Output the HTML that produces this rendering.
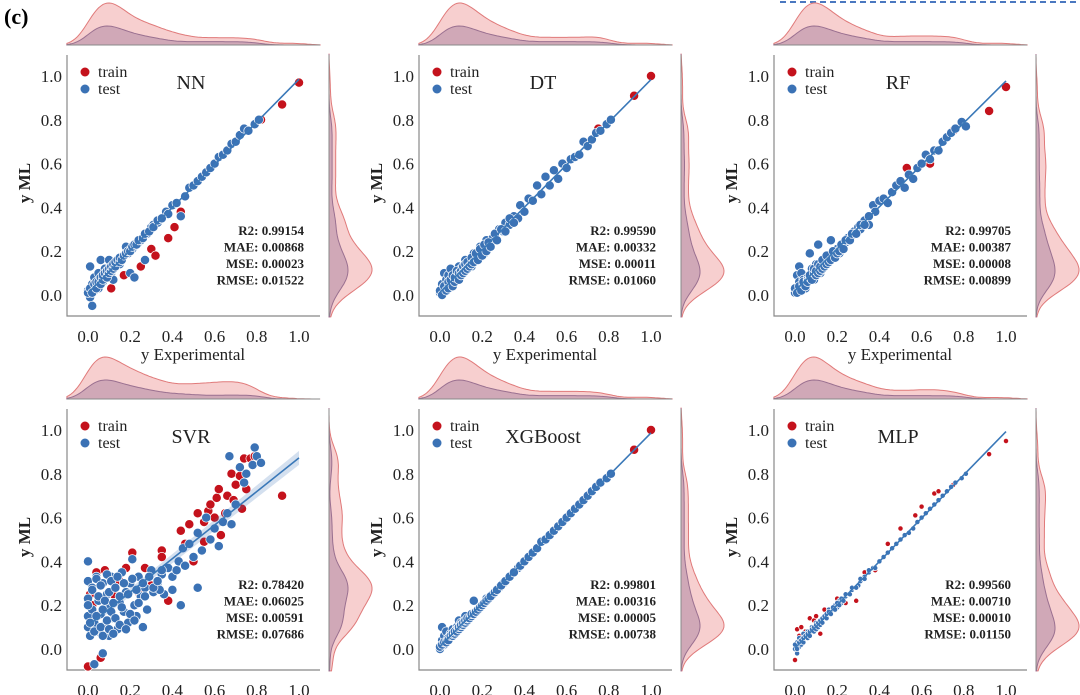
<!DOCTYPE html>
<html><head><meta charset="utf-8">
<style>
html,body{margin:0;padding:0;background:#fff;}
svg{display:block;font-family:"Liberation Serif",serif;}
</style></head>
<body>
<svg id="fig" width="1080" height="695" viewBox="0 0 1080 695" xmlns="http://www.w3.org/2000/svg">
<text x="4" y="24" font-size="22" font-weight="bold">(c)</text>
<line x1="780" y1="2" x2="1080" y2="2" stroke="#4a78c0" stroke-width="2" stroke-dasharray="6,4"/>
</svg>
<script>
// shared experimental values (test set)
const expX = [0.00,0.01,0.01,0.02,0.02,0.03,0.03,0.04,0.05,0.05,0.06,0.07,0.08,0.08,0.09,0.10,0.10,0.11,0.12,0.13,0.14,0.15,0.16,0.17,0.18,0.19,0.20,0.21,0.22,0.24,0.25,0.27,0.28,0.30,0.31,0.33,0.35,0.37,0.38,0.40,0.42,0.44,0.46,0.48,0.50,0.52,0.54,0.56,0.58,0.60,0.62,0.64,0.66,0.68,0.70,0.72,0.74,0.76,0.79,0.81];
const expX2 = [0.00,0.01,0.02,0.03,0.04,0.04,0.05,0.06,0.06,0.07,0.07,0.08,0.09,0.09,0.10,0.10,0.11,0.11,0.12,0.12,0.13,0.13,0.14,0.15,0.15,0.16,0.17,0.18,0.19,0.20,0.21,0.22,0.23,0.24,0.26,0.27,0.29,0.31,0.33,0.35];
const nnY = [0.02,0.13,-0.01,-0.05,0.05,0.02,0.08,0.06,0.03,0.10,0.16,0.06,0.09,0.12,0.08,0.16,0.11,0.10,0.07,0.13,0.15,0.14,0.17,0.18,0.22,0.19,0.10,0.21,0.08,0.24,0.25,0.16,0.28,0.31,0.32,0.33,0.35,0.38,0.37,0.41,0.42,0.36,0.45,0.49,0.50,0.52,0.54,0.56,0.58,0.60,0.63,0.64,0.66,0.69,0.70,0.73,0.76,0.75,0.78,0.80];
const nnY2 = [0.01,0.03,0.01,0.05,0.03,0.06,0.06,0.05,0.08,0.07,0.09,0.10,0.08,0.11,0.10,0.12,0.11,0.13,0.12,0.14,0.13,0.15,0.16,0.15,0.17,0.16,0.18,0.19,0.20,0.20,0.22,0.23,0.23,0.25,0.26,0.28,0.29,0.31,0.34,0.35];
const dtY = [0.01,0.05,0.02,0.10,0.03,0.07,0.04,0.09,0.05,0.12,0.06,0.08,0.10,0.07,0.13,0.09,0.12,0.11,0.16,0.12,0.15,0.13,0.19,0.17,0.16,0.22,0.20,0.19,0.25,0.23,0.26,0.25,0.30,0.29,0.33,0.32,0.36,0.35,0.41,0.38,0.44,0.43,0.50,0.46,0.54,0.50,0.57,0.53,0.60,0.58,0.62,0.63,0.64,0.70,0.68,0.71,0.74,0.75,0.78,0.80];
const dtY2 = [0.02,0.00,0.04,0.02,0.06,0.03,0.07,0.04,0.09,0.06,0.08,0.11,0.07,0.10,0.11,0.09,0.13,0.10,0.14,0.11,0.15,0.12,0.13,0.17,0.14,0.15,0.19,0.16,0.21,0.18,0.23,0.20,0.24,0.22,0.28,0.25,0.30,0.29,0.35,0.33];
const rfY = [0.01,0.09,0.02,0.06,0.13,0.04,0.10,0.07,0.03,0.05,0.08,0.19,0.09,0.12,0.07,0.14,0.11,0.23,0.10,0.13,0.16,0.15,0.17,0.25,0.18,0.20,0.21,0.19,0.22,0.24,0.26,0.27,0.29,0.31,0.30,0.34,0.32,0.41,0.38,0.43,0.44,0.42,0.47,0.50,0.52,0.49,0.55,0.53,0.58,0.60,0.64,0.62,0.66,0.66,0.70,0.72,0.74,0.76,0.79,0.77];
const rfY2 = [0.03,0.01,0.04,0.02,0.05,0.06,0.04,0.07,0.06,0.08,0.09,0.07,0.10,0.12,0.09,0.11,0.10,0.14,0.11,0.13,0.12,0.16,0.13,0.14,0.18,0.15,0.16,0.20,0.17,0.19,0.20,0.23,0.21,0.25,0.25,0.28,0.28,0.32,0.32,0.36];
const xgbY = [0.00,0.04,0.10,0.02,0.06,0.03,0.08,0.05,0.07,0.06,0.09,0.08,0.10,0.09,0.13,0.10,0.12,0.11,0.15,0.13,0.14,0.15,0.22,0.17,0.18,0.19,0.20,0.21,0.23,0.24,0.25,0.27,0.28,0.30,0.31,0.33,0.35,0.37,0.38,0.40,0.42,0.44,0.46,0.49,0.50,0.52,0.54,0.56,0.58,0.60,0.62,0.64,0.66,0.68,0.70,0.72,0.74,0.76,0.78,0.80];
const xgbY2 = [0.01,0.02,0.03,0.03,0.05,0.04,0.06,0.06,0.07,0.07,0.08,0.08,0.09,0.10,0.10,0.11,0.11,0.12,0.12,0.13,0.13,0.14,0.14,0.15,0.16,0.16,0.17,0.18,0.19,0.20,0.21,0.22,0.23,0.24,0.26,0.27,0.29,0.31,0.33,0.35];
const mlpY = [0.00,-0.02,0.03,0.01,0.05,0.02,0.04,0.07,0.05,0.06,0.08,0.07,0.09,0.10,0.08,0.12,0.10,0.11,0.13,0.12,0.14,0.15,0.18,0.17,0.18,0.20,0.19,0.22,0.21,0.24,0.25,0.27,0.28,0.29,0.31,0.33,0.35,0.37,0.37,0.40,0.42,0.44,0.46,0.48,0.50,0.52,0.53,0.55,0.58,0.60,0.62,0.64,0.66,0.68,0.70,0.72,0.74,0.76,0.78,0.80];
const mlpY2 = [0.02,0.00,0.03,0.04,0.03,0.05,0.06,0.05,0.07,0.08,0.06,0.09,0.08,0.10,0.11,0.09,0.12,0.10,0.13,0.11,0.14,0.12,0.15,0.14,0.16,0.17,0.16,0.19,0.18,0.21,0.20,0.23,0.22,0.25,0.25,0.28,0.28,0.32,0.32,0.36];
// train points (x, y) per model
const nnTrainX = [0.11,0.17,0.25,0.30,0.32,0.38,0.41,0.44,0.92,1.00,0.82];
const nnTrainY = [0.03,0.09,0.13,0.21,0.18,0.26,0.31,0.38,0.87,0.97,0.80];
const dtTrainX = [0.75,0.92,1.00];
const dtTrainY = [0.76,0.91,1.00];
const rfTrainX = [0.53,0.64,0.75,0.92,1.00];
const rfTrainY = [0.58,0.60,0.75,0.84,0.95];
const xgbTrainX = [0.92,1.00];
const xgbTrainY = [0.91,1.00];
const mlpTrainX = [0.00,0.01,0.02,0.03,0.05,0.07,0.09,0.10,0.12,0.14,0.20,0.24,0.29,0.33,0.38,0.44,0.50,0.57,0.60,0.66,0.68,0.75,0.92,1.00];
const mlpTrainY = [-0.05,0.09,0.06,0.10,0.08,0.14,0.13,0.15,0.07,0.18,0.23,0.21,0.22,0.35,0.36,0.48,0.55,0.61,0.65,0.71,0.72,0.75,0.89,0.95];
// SVR has its own scatter
const svrTestX = [0.00,0.00,0.00,0.00,0.00,0.01,0.02,0.02,0.03,0.03,0.04,0.05,0.05,0.06,0.07,0.07,0.08,0.09,0.10,0.10,0.11,0.12,0.13,0.14,0.15,0.16,0.17,0.18,0.19,0.20,0.21,0.22,0.23,0.24,0.25,0.27,0.28,0.30,0.31,0.33,0.35,0.36,0.38,0.40,0.42,0.43,0.44,0.45,0.46,0.48,0.50,0.52,0.52,0.54,0.56,0.58,0.60,0.62,0.64,0.66,0.68,0.70,0.72,0.74,0.75,0.78,0.79,0.80,0.82,0.67,0.40,0.34,0.26];
const svrTestY = [0.40,0.31,0.23,0.15,0.10,0.06,0.18,0.28,0.12,-0.07,0.33,0.22,0.08,0.16,0.30,-0.02,0.11,0.25,0.19,0.06,0.33,0.14,0.28,0.09,0.21,0.35,0.17,0.26,0.12,0.30,0.41,0.20,0.15,0.33,0.24,0.28,0.18,0.36,0.26,0.30,0.34,0.25,0.37,0.33,0.36,0.40,0.20,0.46,0.38,0.48,0.42,0.28,0.53,0.45,0.60,0.50,0.55,0.47,0.58,0.62,0.57,0.66,0.83,0.76,0.80,0.84,0.92,0.88,0.85,0.88,0.27,0.27,0.10];
const svrY2 = [0.20,0.12,0.27,0.08,0.32,0.15,0.24,0.10,0.29,0.18,0.06,0.22,0.34,0.13,0.26,0.09,0.31,0.17,0.21,0.07,0.28,0.14,0.33,0.11,0.24,0.19,0.30,0.09,0.25,0.16,0.32,0.13,0.27,0.21,0.30,0.24,0.33,0.28,0.31,0.36];
const svrTrainX = [0.00,0.01,0.02,0.04,0.06,0.08,0.12,0.15,0.18,0.21,0.24,0.27,0.30,0.35,0.35,0.38,0.44,0.48,0.50,0.52,0.55,0.57,0.58,0.60,0.61,0.62,0.63,0.65,0.66,0.68,0.69,0.70,0.72,0.73,0.74,0.75,0.77,0.79,0.92,0.46,0.55];
const svrTrainY = [-0.08,0.25,0.20,0.35,-0.04,0.36,0.25,0.31,0.37,0.44,0.26,0.37,0.29,0.45,0.42,0.22,0.54,0.57,0.40,0.62,0.49,0.63,0.66,0.60,0.69,0.73,0.52,0.62,0.70,0.80,0.68,0.75,0.79,0.64,0.87,0.73,0.87,0.88,0.70,0.48,0.58];

const models = ["NN","DT","RF","SVR","XGBoost","MLP"];
const stats = [
 ["R2: 0.99154","MAE: 0.00868","MSE: 0.00023","RMSE: 0.01522"],
 ["R2: 0.99590","MAE: 0.00332","MSE: 0.00011","RMSE: 0.01060"],
 ["R2: 0.99705","MAE: 0.00387","MSE: 0.00008","RMSE: 0.00899"],
 ["R2: 0.78420","MAE: 0.06025","MSE: 0.00591","RMSE: 0.07686"],
 ["R2: 0.99801","MAE: 0.00316","MSE: 0.00005","RMSE: 0.00738"],
 ["R2: 0.99560","MAE: 0.00710","MSE: 0.00010","RMSE: 0.01150"]];
const tickVals = [0.0,0.2,0.4,0.6,0.8,1.0];
const tickLabels = ["0.0","0.2","0.4","0.6","0.8","1.0"];

const testXs = [expX.concat(expX2),expX.concat(expX2),expX.concat(expX2),svrTestX.concat(expX2),expX.concat(expX2),expX.concat(expX2)];
const testYs = [nnY.concat(nnY2),dtY.concat(dtY2),rfY.concat(rfY2),svrTestY.concat(svrY2),xgbY.concat(xgbY2),mlpY.concat(mlpY2)];
const trainXs = [nnTrainX,dtTrainX,rfTrainX,svrTrainX,xgbTrainX,mlpTrainX];
const trainYs = [nnTrainY,dtTrainY,rfTrainY,svrTrainY,xgbTrainY,mlpTrainY];

const NS = "http://www.w3.org/2000/svg";
const svg = document.getElementById("fig");
function mk(tag, attrs, parent){const e=document.createElementNS(NS,tag);for(const k in attrs)e.setAttribute(k,attrs[k]);(parent||svg).appendChild(e);return e;}

function kde(vals, bw, grid){
  return grid.map(g=>{let s=0;for(const v of vals){const z=(g-v)/bw;s+=Math.exp(-0.5*z*z);}return s;});
}
const RED="#c4121c", BLUE="#3b72b5";
const lefts=[67,419,774], tops=[55,409];

models.forEach((name,i)=>{
  const L=lefts[i%3], T=tops[Math.floor(i/3)];
  const g=mk("g",{});
  
  
  const sx=v=>L+21+v*211, sy=v=>T+240-v*219;
  const tx=testXs[i], ty=testYs[i], rx=trainXs[i], ry=trainYs[i];
  const allX=tx.concat(rx), allY=ty.concat(ry);
  const grid=[];for(let k=0;k<=120;k++)grid.push(-0.1+k*0.01);
  const topBase=T-10, rightBase=L+262;
  const dTrainX=kde(allX,0.055,grid), dTestX=kde(tx,0.05,grid);
  const dTrainY=kde(allY,0.055,grid), dTestY=kde(ty,0.05,grid);
  const mxA=Math.max(...dTrainX), mxB=Math.max(...dTestX), myA=Math.max(...dTrainY), myB=Math.max(...dTestY);
  function topPath(d,mx,h){let p=`M${sx(grid[0])},${topBase}`;grid.forEach((v,k)=>p+=`L${sx(v).toFixed(1)},${(topBase-d[k]/mx*h).toFixed(1)}`);return p+`L${sx(grid[grid.length-1])},${topBase}Z`;}
  function rightPath(d,mx,h){let p=`M${rightBase},${sy(grid[0])}`;grid.forEach((v,k)=>p+=`L${(rightBase+d[k]/mx*h).toFixed(1)},${sy(v).toFixed(1)}`);return p+`L${rightBase},${sy(grid[grid.length-1])}Z`;}
  let e=mk("path",{d:topPath(dTrainX,mxA,42),fill:"rgba(235,130,130,0.38)",stroke:"#e07a7a","stroke-width":1},g);
  
  
  e=mk("path",{d:topPath(dTestX,mxB,19),fill:"rgba(120,80,130,0.30)",stroke:"#9a7090","stroke-width":1},g);
  
  
  e=mk("path",{d:rightPath(dTrainY,myA,43),fill:"rgba(235,130,130,0.38)",stroke:"#e07a7a","stroke-width":1},g);
  
  
  e=mk("path",{d:rightPath(dTestY,myB,19),fill:"rgba(120,80,130,0.30)",stroke:"#9a7090","stroke-width":1},g);
  
  
  e=mk("line",{x1:L,y1:topBase,x2:L+253,y2:topBase,stroke:"#888","stroke-width":1},g);
  
  
  e=mk("line",{x1:rightBase,y1:T,x2:rightBase,y2:T+261,stroke:"#888","stroke-width":1},g);
  
  
  e=mk("path",{d:`M${L},${T}V${T+261}H${L+253}`,fill:"none",stroke:"#888","stroke-width":1.2},g);
  
  
  tickVals.forEach((v,k)=>{
    let t=mk("text",{x:sx(v),y:T+287,"font-size":17,"text-anchor":"middle",fill:"#222"},g);t.textContent=tickLabels[k];
    
    
    t=mk("text",{x:L-5,y:sy(v)+6,"font-size":17,"text-anchor":"end",fill:"#222"},g);t.textContent=tickLabels[k];
    
    
  });
  let t=mk("text",{x:L+126,y:T+305,"font-size":17,"text-anchor":"middle",fill:"#222"},g);t.textContent="y Experimental";
  
  
  t=mk("text",{x:0,y:0,"font-size":17,"font-weight":"bold","text-anchor":"middle",fill:"#222",transform:`translate(${L-37},${T+128}) rotate(-90)`},g);t.textContent="y ML";
  
  
  const r = name==="MLP"?2.6:4.6;
  rx.forEach((v,k)=>{const c=mk("circle",{cx:sx(v).toFixed(1),cy:sy(ry[k]).toFixed(1),r:r,fill:RED,stroke:"#fff","stroke-width":0.7},g);
    
    });
  tx.forEach((v,k)=>{const c=mk("circle",{cx:sx(v).toFixed(1),cy:sy(ty[k]).toFixed(1),r:r,fill:BLUE,stroke:"#fff","stroke-width":0.7},g);
    
    });
  const n=tx.length, mxv=tx.reduce((a,b)=>a+b)/n, myv=ty.reduce((a,b)=>a+b)/n;
  let num=0,den=0;tx.forEach((v,k)=>{num+=(v-mxv)*(ty[k]-myv);den+=(v-mxv)*(v-mxv);});
  const slope=num/den, icpt=myv-slope*mxv;
  const x0=Math.min(...tx), x1=1.0;
  if(name==="SVR"){
    e=mk("path",{d:`M${sx(x0)},${sy(slope*x0+icpt)-3}L${sx(x1)},${sy(slope*x1+icpt)-7}L${sx(x1)},${sy(slope*x1+icpt)+7}L${sx(x0)},${sy(slope*x0+icpt)+3}Z`,fill:"rgba(59,114,181,0.22)"},g);
    
    
  }
  e=mk("line",{x1:sx(x0),y1:sy(slope*x0+icpt),x2:sx(x1),y2:sy(slope*x1+icpt),stroke:"#3a78b8","stroke-width":1.6},g);
  
  
  e=mk("circle",{cx:L+18,cy:T+17,r:4.5,fill:RED},g);
  
  
  t=mk("text",{x:L+31,y:T+22,"font-size":16,fill:"#222"},g);t.textContent="train";
  
  
  e=mk("circle",{cx:L+18,cy:T+34,r:4.5,fill:BLUE},g);
  
  
  t=mk("text",{x:L+31,y:T+39,"font-size":16,fill:"#222"},g);t.textContent="test";
  
  
  t=mk("text",{x:L+124,y:T+34,"font-size":20,"text-anchor":"middle",fill:"#222"},g);t.textContent=name;
  
  
  stats[i].forEach((s,k)=>{
    const st=mk("text",{x:L+237,y:T+180+k*16.5,"font-size":13,"font-weight":"bold","text-anchor":"end",fill:"#222"},g);st.textContent=s;
    
    
  });
});
</script>
</body></html>
